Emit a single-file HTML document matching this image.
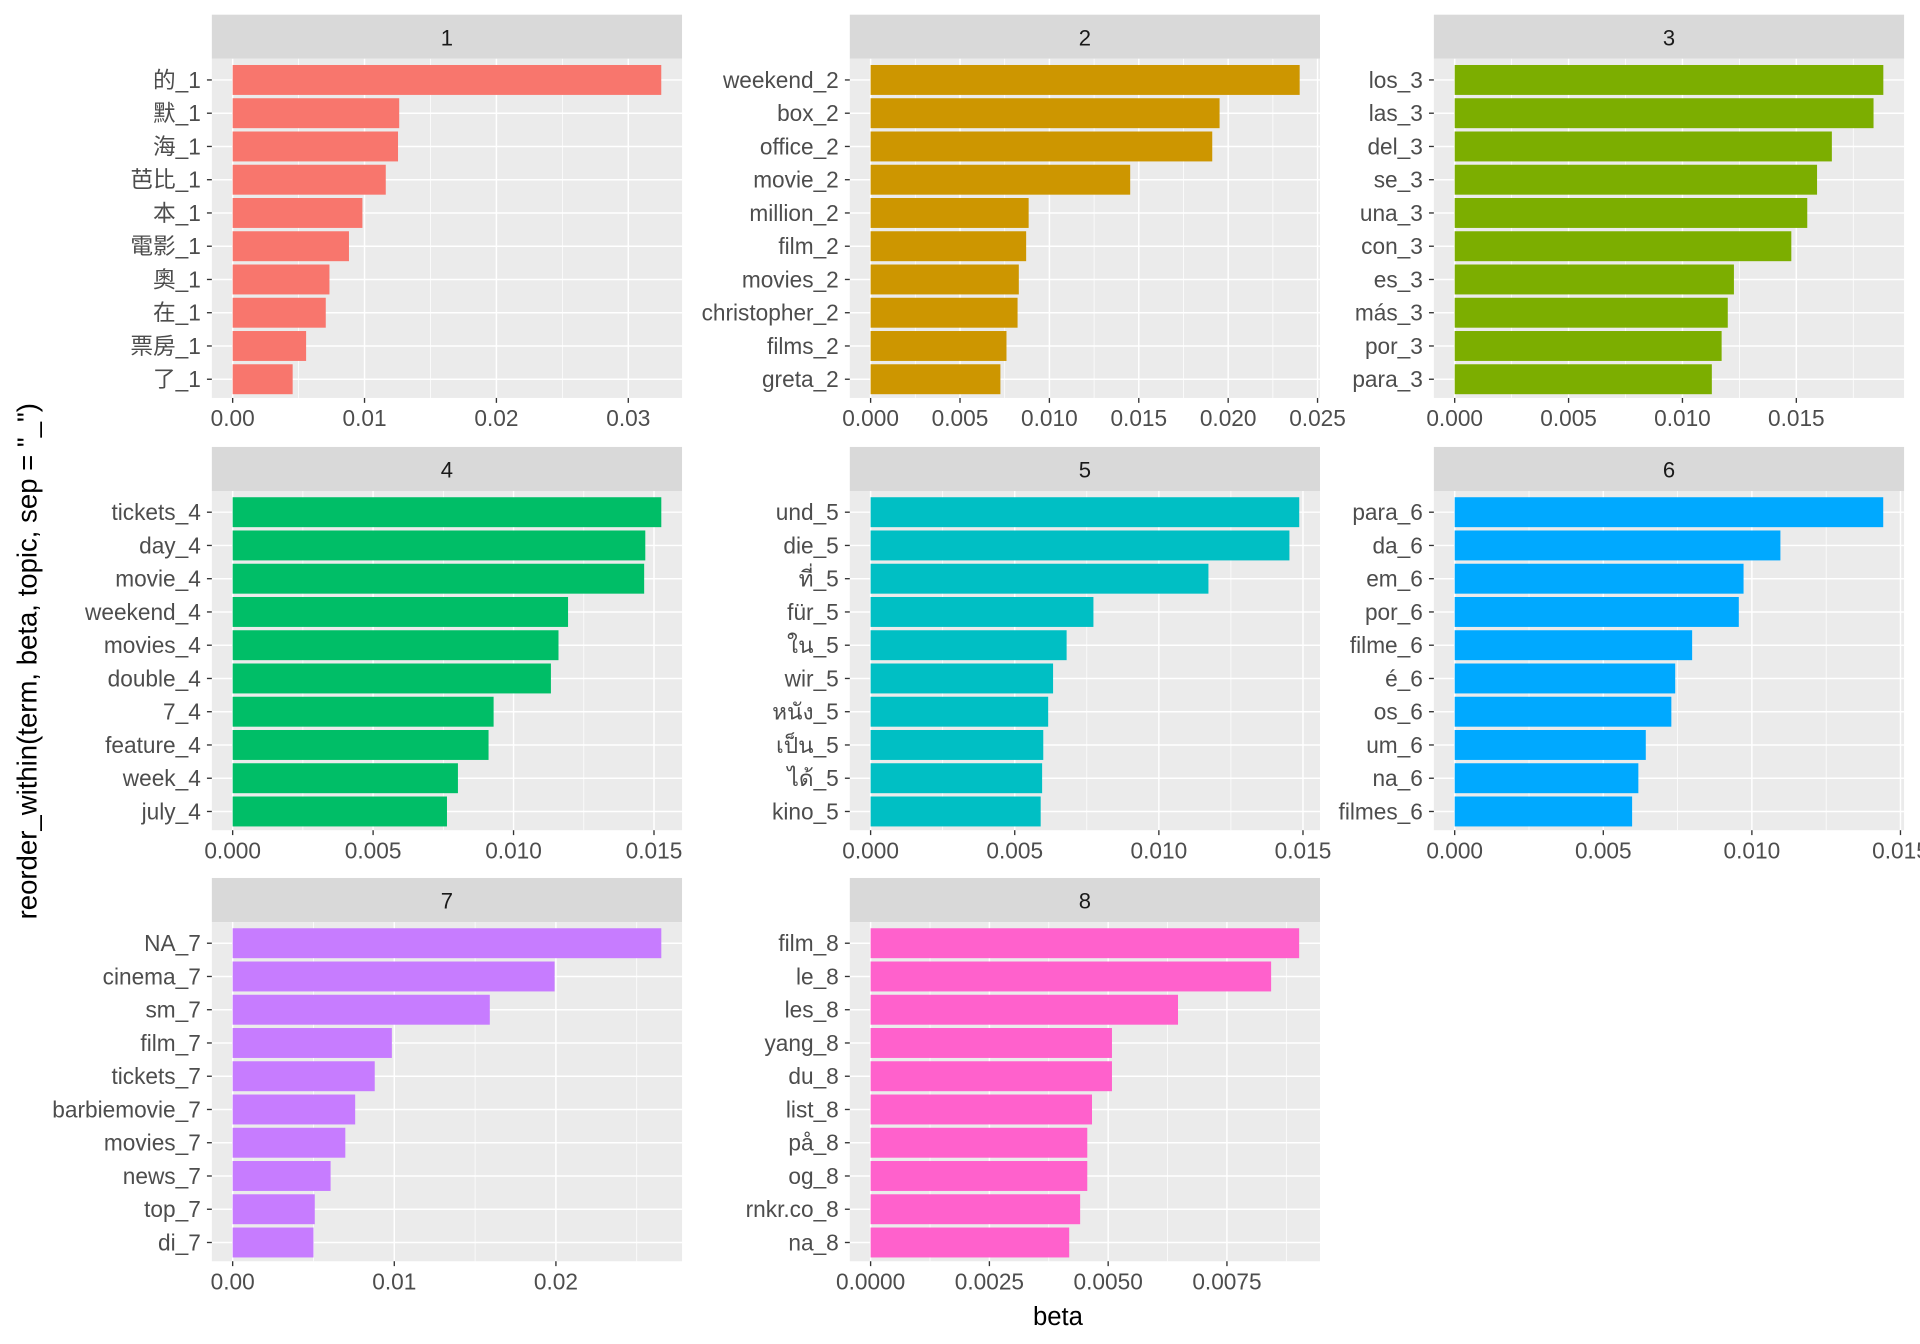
<!DOCTYPE html>
<html><head><meta charset="utf-8">
<style>
html,body{margin:0;padding:0;background:#fff;}
svg{display:block;}
text{font-family:"Liberation Sans","Noto Sans CJK TC","DejaVu Sans",sans-serif;}
</style></head>
<body>
<svg id="chart" xmlns="http://www.w3.org/2000/svg" width="1920" height="1344" viewBox="0 0 1568 1097.6">
<rect x="0" y="0" width="1568" height="1097.6" fill="#fff"/>
<text x="0" y="0" transform="translate(30,540) rotate(-90)" text-anchor="middle" font-size="22.5" fill="#000">reorder_within(term, beta, topic, sep = "_")</text>
<text x="864" y="1082" text-anchor="middle" font-size="21" fill="#000">beta</text>
</svg>
<script>
const terms1 = ["的_1","默_1","海_1","芭比_1","本_1","電影_1","奧_1","在_1","票房_1","了_1"];
const values1 = [0.0325,0.01263,0.01254,0.01161,0.00984,0.00882,0.00734,0.00706,0.00557,0.00455];
const terms2 = ["weekend_2","box_2","office_2","movie_2","million_2","film_2","movies_2","christopher_2","films_2","greta_2"];
const values2 = [0.0240,0.01952,0.01911,0.01452,0.00884,0.0087,0.00829,0.00822,0.0076,0.00726];
const terms3 = ["los_3","las_3","del_3","se_3","una_3","con_3","es_3","más_3","por_3","para_3"];
const values3 = [0.01882,0.01839,0.01656,0.01591,0.01548,0.01478,0.01226,0.01199,0.01172,0.01129];
const terms4 = ["tickets_4","day_4","movie_4","weekend_4","movies_4","double_4","7_4","feature_4","week_4","july_4"];
const values4 = [0.01526,0.01469,0.01465,0.01194,0.0116,0.01133,0.00929,0.00911,0.00802,0.00763];
const terms5 = ["und_5","die_5","ที่_5","für_5","ใน_5","wir_5","หนัง_5","เป็น_5","ได้_5","kino_5"];
const values5 = [0.01487,0.01453,0.01172,0.00773,0.0068,0.00633,0.00616,0.00599,0.00595,0.0059];
const terms6 = ["para_6","da_6","em_6","por_6","filme_6","é_6","os_6","um_6","na_6","filmes_6"];
const values6 = [0.01442,0.01096,0.00972,0.00956,0.00799,0.00742,0.00729,0.00643,0.00618,0.00597];
const terms7 = ["NA_7","cinema_7","sm_7","film_7","tickets_7","barbiemovie_7","movies_7","news_7","top_7","di_7"];
const values7 = [0.02652,0.01992,0.01591,0.00985,0.00879,0.00758,0.00697,0.00606,0.00508,0.005];
const terms8 = ["film_8","le_8","les_8","yang_8","du_8","list_8","på_8","og_8","rnkr.co_8","na_8"];
const values8 = [0.00902,0.00843,0.00647,0.00508,0.00508,0.00466,0.00456,0.00456,0.00441,0.00418];
const ticks1 = [0,0.01,0.02,0.03];
const tickLabels1 = ["0.00","0.01","0.02","0.03"];
const ticks2 = [0,0.005,0.01,0.015,0.02,0.025];
const tickLabels2 = ["0.000","0.005","0.010","0.015","0.020","0.025"];
const ticks3 = [0,0.005,0.01,0.015];
const tickLabels3 = ["0.000","0.005","0.010","0.015"];
const ticks7 = [0,0.01,0.02];
const tickLabels7 = ["0.00","0.01","0.02"];
const ticks8 = [0,0.0025,0.005,0.0075];
const tickLabels8 = ["0.0000","0.0025","0.0050","0.0075"];
const topicLabels = ["1","2","3","4","5","6","7","8"];

const colors = ["#F8766D","#CD9600","#7CAE00","#00BE67","#00BFC4","#00A9FF","#C77CFF","#FF61CC"];
const panels = [
 {t:terms1,v:values1,tk:ticks1,tl:tickLabels1,col:0,row:0,x0:190,k:10770},
 {t:terms2,v:values2,tk:ticks2,tl:tickLabels2,col:1,row:0,x0:711,k:14600},
 {t:terms3,v:values3,tk:ticks3,tl:tickLabels3,col:2,row:0,x0:1188,k:18600},
 {t:terms4,v:values4,tk:ticks3,tl:tickLabels3,col:0,row:1,x0:190,k:22940},
 {t:terms5,v:values5,tk:ticks3,tl:tickLabels3,col:1,row:1,x0:711,k:23540},
 {t:terms6,v:values6,tk:ticks3,tl:tickLabels3,col:2,row:1,x0:1188,k:24270},
 {t:terms7,v:values7,tk:ticks7,tl:tickLabels7,col:0,row:2,x0:190,k:13200},
 {t:terms8,v:values8,tk:ticks8,tl:tickLabels8,col:1,row:2,x0:711,k:38800}
];
const colX = [173,694,1171];
const rowY = [12,365,717];
const PW = 384, SH = 36, PH = 277;
const NS = "http://www.w3.org/2000/svg";
const svg = document.getElementById("chart");
function mk(tag, attrs, parent){
  const e = document.createElementNS(NS, tag);
  for (const a in attrs) e.setAttribute(a, attrs[a]);
  (parent||svg).appendChild(e);
  return e;
}
panels.forEach((p, i) => {
  const left = colX[p.col], top = rowY[p.row];
  const pt = top + SH, pb = pt + PH, right = left + PW;
  const g = mk("g", {});
  
  
  const strip = mk("rect", {x:left,y:top,width:PW,height:SH,fill:"#D9D9D9"}, g);
  
  
  const st = mk("text", {x:left+PW/2,y:top+25,"text-anchor":"middle","font-size":"18","fill":"#1A1A1A"}, g);
  st.textContent = topicLabels[i];
  
  
  const bg = mk("rect", {x:left,y:pt,width:PW,height:PH,fill:"#EBEBEB"}, g);
  
  
  const sx = v => p.x0 + v * p.k;
  const unit = PH / 10.2;
  const cy = j => pt + 1 + (0.6 + j) * unit;
  const step = p.tk[1] - p.tk[0];
  for (let m = p.tk[0] - step/2; sx(m) <= right; m += step) {
    if (sx(m) < left) continue;
    mk("line", {x1:sx(m),x2:sx(m),y1:pt,y2:pb,stroke:"#fff","stroke-width":"0.6"}, g);
  }
  p.tk.forEach(t => mk("line", {x1:sx(t),x2:sx(t),y1:pt,y2:pb,stroke:"#fff","stroke-width":"1.2"}, g));
  p.t.forEach((_, j) => mk("line", {x1:left,x2:right,y1:cy(j),y2:cy(j),stroke:"#fff","stroke-width":"1.2"}, g));
  p.v.forEach((v, j) => {
    const r = mk("rect", {x:sx(0),y:cy(j)-unit*0.45,width:Math.max(0,sx(v)-sx(0)),height:unit*0.9,fill:colors[i]}, g);
    
    
  });
  p.t.forEach((t, j) => {
    mk("line", {x1:left-4,x2:left,y1:cy(j),y2:cy(j),stroke:"#333","stroke-width":"1.1"}, g);
    const tx = mk("text", {x:left-9,y:cy(j)+6.5,"text-anchor":"end","font-size":"18.5",fill:"#4D4D4D"}, g);
    tx.textContent = t;
    
    
  });
  p.tk.forEach((t, j) => {
    mk("line", {x1:sx(t),x2:sx(t),y1:pb,y2:pb+4,stroke:"#333","stroke-width":"1.1"}, g);
    const tx = mk("text", {x:sx(t),y:pb+23,"text-anchor":"middle","font-size":"18.5",fill:"#4D4D4D"}, g);
    tx.textContent = p.tl[j];
    
    
  });
});
</script>
</body></html>
